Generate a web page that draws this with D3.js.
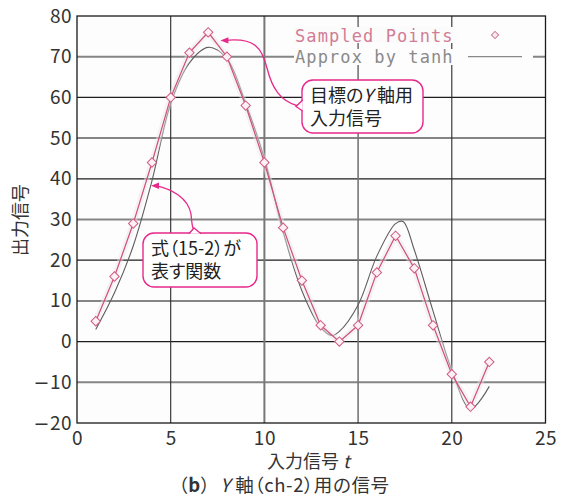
<!DOCTYPE html>
<html>
<head>
<meta charset="utf-8">
<script src="https://cdn.jsdelivr.net/npm/d3@7"></script>
<style>
body { margin: 0; background: #fff; }
svg text { font-family: "Noto Sans CJK JP", "Noto Sans", sans-serif; }
.jp { font-feature-settings: "palt"; }
</style>
</head>
<body>
<div id="chart"></div>
<script>
// sampled target signal (red diamonds)
var sampleT = [1, 2, 3, 4, 5, 6, 7, 8, 9, 10, 11, 12, 13, 14, 15, 16, 17, 18, 19, 20, 21, 22];
var sampleV = [5, 16, 29, 44, 60, 71, 76, 70, 58, 44, 28, 15, 4, 0, 4, 17, 26, 18, 4, -8, -16, -5];

// tanh approximation (gray curve)
var approxT = [1, 2, 3, 4, 5, 6, 7, 8, 9, 10, 11, 12, 13, 13.6, 14, 15, 16, 17, 17.4, 18, 19, 20, 21, 22];
var approxV = [3, 12, 23.5, 39.5, 58.5, 68.5, 72.3, 69.5, 58.5, 45, 27, 12.5, 3.5, 1.5, 2.5, 9, 21, 29, 29.5, 22.5, 7.5, -7, -16.5, -11];

var xTicks = [0, 5, 10, 15, 20, 25];
var yTicks = [-20, -10, 0, 10, 20, 30, 40, 50, 60, 70, 80];
var legendLabels = ["Sampled Points", "Approx by tanh"];

var W = 571, H = 502;
var pl = 77, pr = 545.5, pt = 16, pb = 423;

var svg = d3.select("#chart").append("svg").attr("width", W).attr("height", H);

var x = d3.scaleLinear().domain([0, 25]).range([pl, pr]);
var y = d3.scaleLinear().domain([-20, 80]).range([pb, pt]);

svg.append("rect").attr("x", pl).attr("y", pt).attr("width", pr - pl).attr("height", pb - pt).attr("fill", "#fdfdfd");

// grid (scanned look: alternating gray heavy / dark thin lines)
svg.append("g").selectAll("line").data(yTicks.slice(1, -1)).enter().append("line")
    .attr("x1", pl).attr("x2", pr)
    .attr("y1", d => y(d)).attr("y2", d => y(d))
    .attr("stroke", d => (Math.abs(d / 10) % 2 == 1) ? "#858585" : "#1e1e1e")
    .attr("stroke-width", d => (Math.abs(d / 10) % 2 == 1) ? 2 : 1.2);

svg.append("g").selectAll("line").data(xTicks.slice(1, -1)).enter().append("line")
    .attr("y1", pt).attr("y2", pb)
    .attr("x1", d => x(d)).attr("x2", d => x(d))
    .attr("stroke", d => (d == 10 || d == 15) ? "#777" : "#2a2a2a")
    .attr("stroke-width", d => d == 10 ? 2 : (d == 15 ? 1.6 : 1.1));

// legend backgrounds hide the grid behind the text
var legend = svg.append("g");
legend.append("rect").attr("x", 294).attr("y", 27).attr("width", 163).attr("height", 16).attr("fill", "#fbfbfb");
legend.append("rect").attr("x", 294).attr("y", 49).attr("width", 239).attr("height", 16).attr("fill", "#fdfdfd");

// frame
svg.append("rect").attr("x", pl).attr("y", pt).attr("width", pr - pl).attr("height", pb - pt)
    .attr("fill", "none").attr("stroke", "#1a1a1a").attr("stroke-width", 1.3);

// axes
var yAxis = svg.append("g").attr("transform", "translate(" + pl + ",0)")
    .call(d3.axisLeft(y).tickValues(yTicks).tickSize(0).tickPadding(5).tickFormat(d => Math.abs(d)));
var xAxis = svg.append("g").attr("transform", "translate(0," + pb + ")")
    .call(d3.axisBottom(x).tickValues(xTicks).tickSize(0).tickPadding(8));
[xAxis, yAxis].forEach(function (g) {
    g.select(".domain").remove();
    g.selectAll("text").attr("font-size", 19).attr("fill", "#333")
        .style("font-family", "'Noto Sans CJK JP', sans-serif").style("letter-spacing", "0.5px");
});
// long minus sign like the original typesetting
yAxis.selectAll(".tick text").filter(d => d < 0).each(function (d) {
    var t = d3.select(this).text("");
    t.append("tspan").style("font-family", "'DejaVu Sans', sans-serif").attr("font-size", 19).text("\u2212");
    t.append("tspan").text(Math.abs(d));
});

// gray tanh curve
var approx = approxT.map((t, i) => [t, approxV[i]]);
svg.append("path").datum(approx)
    .attr("d", d3.line().x(d => x(d[0])).y(d => y(d[1])).curve(d3.curveCatmullRom))
    .attr("fill", "none").attr("stroke", "#5e5e5e").attr("stroke-width", 1.1);

// red sampled line with faint halo
var samples = sampleT.map((t, i) => [t, sampleV[i]]);
var sline = d3.line().x(d => x(d[0])).y(d => y(d[1]));
svg.append("path").datum(samples).attr("d", sline)
    .attr("fill", "none").attr("stroke", "#ece4e8").attr("stroke-width", 6).attr("opacity", 0.45);
svg.append("path").datum(samples).attr("d", sline)
    .attr("fill", "none").attr("stroke", "#cf4f78").attr("stroke-width", 1.2);

var diamond = d3.symbol().type(d3.symbolSquare).size(44);
svg.append("g").selectAll("path").data(samples).enter().append("path")
    .attr("d", diamond)
    .attr("transform", d => "translate(" + x(d[0]) + "," + y(d[1]) + ") rotate(45)")
    .attr("fill", "#fdf1f5").attr("stroke", "#d05a80").attr("stroke-width", 1);

// legend
legend.selectAll("text").data(legendLabels).enter().append("text")
    .attr("x", 295).attr("y", (d, i) => 41.5 + i * 21.8)
    .text(d => d)
    .style("font-family", "'DejaVu Sans Mono', monospace")
    .attr("font-size", 17).style("letter-spacing", "1.1px")
    .attr("fill", (d, i) => i == 0 ? "#d27d95" : "#8a8a8a");
legend.append("path").attr("d", d3.symbol().type(d3.symbolSquare).size(26))
    .attr("transform", "translate(495,35) rotate(45)")
    .attr("fill", "#fbeaf0").attr("stroke", "#d07a95").attr("stroke-width", 1);
legend.append("line").attr("x1", 468).attr("x2", 522).attr("y1", y(70)).attr("y2", y(70))
    .attr("stroke", "#888").attr("stroke-width", 1.3);

// callouts
var pink = "#e8288a";
function arrowHead(px, py) {
    svg.append("path").attr("d", "M" + px + "," + py + " l8,-3.2 l0,6.4 z").attr("fill", pink);
}
function bubble(bx, by, bw, bh, lines) {
    svg.append("rect").attr("x", bx).attr("y", by).attr("width", bw).attr("height", bh)
        .attr("rx", 11).attr("fill", "#fff").attr("stroke", pink).attr("stroke-width", 1.4);
    var t = svg.append("text").attr("class", "jp").attr("font-size", 18).attr("fill", "#222");
    lines.forEach(function (ln, i) {
        var row = t.append("tspan").attr("x", bx + 8).attr("y", by + 22 + i * 23);
        ln.forEach(function (part) {
            var s = row.append("tspan").text(part[0]);
            if (part[1]) s.style("font-style", "italic");
        });
    });
}

// callout 1: target Y input signal
var a1x = x(7.65), a1y = y(74);
svg.append("path")
    .attr("d", "M" + (a1x + 4) + "," + a1y + " C255,37 262,48 267,68 C272,88 280,101 298,106")
    .attr("fill", "none").attr("stroke", pink).attr("stroke-width", 1.3);
arrowHead(a1x, a1y);
bubble(302, 80, 121, 53, [[["目標の"], ["Y", true], [" 軸用"]], [["入力信号"]]]);
svg.append("path").attr("d", "M302.7,100 L296,106.5 L302.7,111").attr("fill", "#fff").attr("stroke", pink).attr("stroke-width", 1.3);

// callout 2: function of eq. (15-2)
var a2x = x(3.95), a2y = y(38.3);
svg.append("path")
    .attr("d", "M" + (a2x + 4) + "," + a2y + " C172,189 188,198 191,214 C192,224 192,229 196,233")
    .attr("fill", "none").attr("stroke", pink).attr("stroke-width", 1.3);
arrowHead(a2x, a2y);
bubble(143, 233, 114, 54, [[["式（15-2）が"]], [["表す関数"]]]);
svg.append("path").attr("d", "M189,233.7 L194,228 L201,233.7").attr("fill", "#fff").attr("stroke", pink).attr("stroke-width", 1.3);

// axis titles
svg.append("text").attr("transform", "translate(27,220) rotate(-90)")
    .attr("text-anchor", "middle").attr("font-size", 18).attr("fill", "#333").text("出力信号");

var xt = svg.append("text").attr("x", x(12.35)).attr("y", 468).attr("text-anchor", "middle")
    .attr("font-size", 18).attr("fill", "#333");
xt.append("tspan").text("入力信号 ");
xt.append("tspan").style("font-style", "italic").text("t");

var cap = svg.append("text").attr("class", "jp").attr("x", 284).attr("y", 492).attr("text-anchor", "middle")
    .attr("font-size", 18.5).attr("fill", "#333").style("letter-spacing", "0.6px");
cap.append("tspan").text("（");
cap.append("tspan").attr("font-weight", "bold").text("b");
cap.append("tspan").text("）\u00a0\u00a0");
cap.append("tspan").style("font-style", "italic").text("Y");
cap.append("tspan").text("\u00a0軸（ch-2）用の信号");
</script>
</body>
</html>
